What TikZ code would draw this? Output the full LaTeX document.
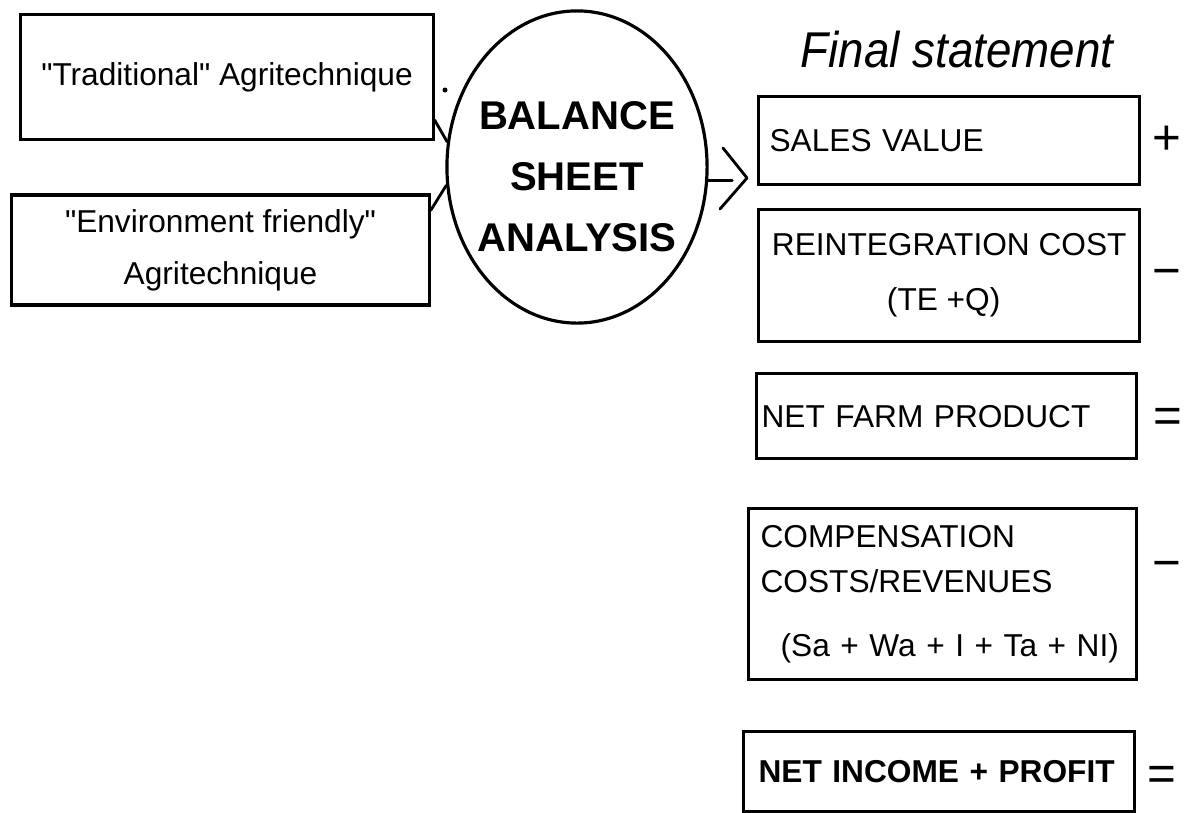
\documentclass[tikz,border=0pt]{standalone}
\usepackage{fontspec}
\setmainfont{Liberation Sans}
\usetikzlibrary{shapes.geometric}
\newcommand\bodyfont{\fontsize{9}{14.8}\selectfont}
\newcommand\qt{\textquotedbl}
\tikzset{
	tbox/.style={draw, line width=0.9pt, rectangle, align=center, inner sep=0pt, font=\bodyfont},
	lbox/.style={draw, line width=0.9pt, rectangle, anchor=north west, align=left, inner ysep=0pt, font=\bodyfont},
	bubble/.style={ellipse, draw, line width=0.9pt, minimum width=2.6cm, minimum height=3.12cm, inner sep=0pt},
	link/.style={line width=0.8pt, line cap=round, line join=round},
	sign/.style={inner sep=0pt, font=\fontsize{14}{14}\selectfont}
}

\begin{document}
\begin{tikzpicture}[x=0.01cm, y=-0.01cm]
			%%%%% START %%%%%
			\useasboundingbox (0,0) rectangle (1186,812);
			
			\node[tbox, minimum width=4.12cm, minimum height=1.25cm] (trad) at (227,77) {\qt Traditional\qt{} Agritechnique};
			\node[tbox, minimum width=4.17cm, minimum height=1.10cm] (env) at (220.5,250) {\qt Environment friendly\qt\\Agritechnique};
			\node[circle, fill, inner sep=0pt, minimum size=0.05cm] (dot) at (445,90) {};
			
			\node[bubble] (bal) at (577,167) {};
			\node[align=center, inner sep=0pt, font=\fontsize{11.4}{17.4}\selectfont\bfseries] (baltext) at (577,176.5) {BALANCE\\SHEET\\ANALYSIS};
			
			\draw[link] ([yshift=0.21cm]trad.south east) -- (bal.169);
			\draw[link] ([yshift=-0.17cm]env.north east) -- (bal.188);
			
			\coordinate (tip) at (747,178);
			\draw[link] (bal.-6) -- ++(24,0);
			\draw[link] ([shift={(-24,-30)}]tip) -- (tip) -- ([shift={(-27,31)}]tip);
			
			\node[anchor=base, inner sep=0pt, font=\fontsize{13}{13}\selectfont\itshape, yscale=1.1] (title) at (957,67) {Final statement};
			
			\node[lbox, minimum width=3.81cm, minimum height=0.88cm, inner xsep=0.11cm, text width=3.59cm] (sales) at (757,95) {SALES VALUE};
			\node[lbox, minimum width=3.81cm, minimum height=1.32cm, font=\fontsize{9}{15.6}\selectfont] (reint) at (757,208) {REINTEGRATION COST\\\hspace*{1.15cm}(TE +Q)};
			\node[lbox, minimum width=3.80cm, minimum height=0.85cm, inner xsep=0.05cm, text width=3.70cm] (netfarm) at (755,372) {NET FARM PRODUCT};
			\node[lbox, minimum width=3.88cm, minimum height=1.71cm, inner xsep=0.12cm, text width=3.64cm, font=\fontsize{9}{12.8}\selectfont] (comp) at (747,507) {COMPENSATION\\COSTS/REVENUES\\[5.4pt]\hspace*{0.2cm}(Sa + Wa + I + Ta + NI)};
			\node[lbox, minimum width=3.91cm, minimum height=0.80cm, inner xsep=0.15cm, text width=3.61cm, font=\bodyfont\bfseries] (netinc) at (742,730) {NET INCOME + PROFIT};
			
			\node[sign] (plus) at (1167,140) {+};
			\node[sign] (minus1) at (1167,278) {−};
			\node[sign] (equal1) at (1168,420) {=};
			\node[sign] (minus2) at (1167,570) {−};
			\node[sign] (equal2) at (1162,778) {=};
			
			%%%%% END %%%%%
		\end{tikzpicture}
\end{document}
